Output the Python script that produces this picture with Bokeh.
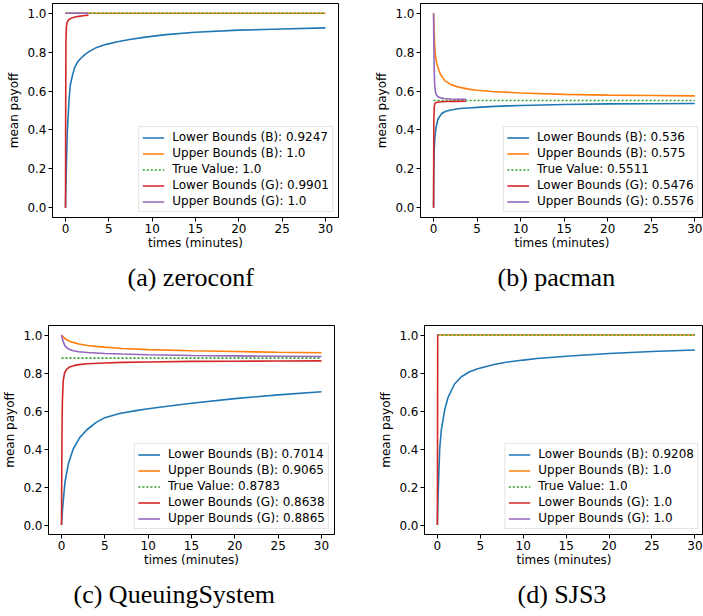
from bokeh.plotting import figure
from bokeh.layouts import column, row
from bokeh.models import FixedTicker, PrintfTickFormatter, Title, Range1d
from bokeh.embed import file_html
from bokeh.resources import INLINE

# ---------------- data ----------------
series_names = ["Lower Bounds (B)", "Upper Bounds (B)", "True Value", "Lower Bounds (G)", "Upper Bounds (G)"]
series_colors = ["#1f77b4", "#ff7f0e", "#2ca02c", "#d62728", "#9467bd"]
x_ticks = [0, 5, 10, 15, 20, 25, 30]
y_ticks = [0.0, 0.2, 0.4, 0.6, 0.8, 1.0]

# (a) zeroconf
a_final = ["0.9247", "1.0", "1.0", "0.9901", "1.0"]
a_lb_b_t = [0, 0.03, 0.1, 0.2, 0.4, 0.55, 0.8, 1.05, 1.4, 1.8, 2.3, 2.8, 3.5, 4.7, 6.0, 7.4, 9.0, 11.6, 15, 20, 25, 30]
a_lb_b_v = [0, 0.08, 0.21, 0.38, 0.55, 0.63, 0.68, 0.72, 0.75, 0.77, 0.79, 0.805, 0.822, 0.84, 0.853, 0.865, 0.876, 0.89, 0.902, 0.913, 0.919, 0.9247]
a_ub_b_t = [0, 30]
a_ub_b_v = [1.0, 1.0]
a_tv_t = [0, 30]
a_tv_v = [1.0, 1.0]
a_lb_g_t = [0, 0.02, 0.05, 0.1, 0.2, 0.4, 0.7, 1.0, 1.5, 2.0, 2.65]
a_lb_g_v = [0, 0.5, 0.85, 0.93, 0.955, 0.968, 0.975, 0.979, 0.984, 0.987, 0.9901]
a_ub_g_t = [0, 2.65]
a_ub_g_v = [1.0, 1.0]

# (b) pacman
b_final = ["0.536", "0.575", "0.5511", "0.5476", "0.5576"]
b_lb_b_t = [0, 0.03, 0.08, 0.15, 0.27, 0.5, 0.9, 1.4, 2.0, 3.0, 4.0, 5.0, 7.0, 10, 15, 20, 25, 30]
b_lb_b_v = [0, 0.2, 0.3, 0.36, 0.41, 0.455, 0.483, 0.496, 0.503, 0.51, 0.513, 0.516, 0.521, 0.526, 0.531, 0.534, 0.535, 0.536]
b_ub_b_t = [0, 0.05, 0.1, 0.2, 0.4, 0.8, 1.35, 2.0, 2.9, 4.0, 5.0, 6.7, 10, 15, 20, 25, 30]
b_ub_b_v = [1.0, 0.93, 0.86, 0.79, 0.735, 0.685, 0.651, 0.633, 0.62, 0.61, 0.604, 0.598, 0.59, 0.583, 0.579, 0.577, 0.575]
b_tv_t = [0, 30]
b_tv_v = [0.5511, 0.5511]
b_lb_g_t = [0, 0.03, 0.08, 0.15, 0.3, 0.6, 1.0, 1.5, 2.5, 3.73]
b_lb_g_v = [0, 0.45, 0.52, 0.535, 0.541, 0.544, 0.545, 0.546, 0.547, 0.5476]
b_ub_g_t = [0, 0.03, 0.07, 0.12, 0.2, 0.3, 0.5, 0.8, 1.2, 2.0, 3.0, 3.73]
b_ub_g_v = [1.0, 0.85, 0.72, 0.64, 0.6, 0.582, 0.571, 0.565, 0.562, 0.559, 0.558, 0.5576]

# (c) QueuingSystem
c_final = ["0.7014", "0.9065", "0.8783", "0.8638", "0.8865"]
c_lb_b_t = [0, 0.1, 0.2, 0.4, 0.8, 1.35, 2.1, 2.9, 4.0, 5.0, 6.7, 8.6, 10, 12, 15, 20, 25, 30]
c_lb_b_v = [0, 0.07, 0.126, 0.225, 0.324, 0.4, 0.46, 0.5, 0.54, 0.565, 0.587, 0.602, 0.612, 0.624, 0.641, 0.665, 0.685, 0.7014]
c_ub_b_t = [0, 0.1, 0.3, 0.6, 1.0, 1.4, 2.0, 3.0, 4.0, 5.0, 7.0, 10, 15, 20, 25, 30]
c_ub_b_v = [1.0, 0.995, 0.985, 0.975, 0.966, 0.96, 0.953, 0.945, 0.94, 0.936, 0.929, 0.923, 0.917, 0.913, 0.909, 0.9065]
c_tv_t = [0, 30]
c_tv_v = [0.8783, 0.8783]
c_lb_g_t = [0, 0.05, 0.1, 0.2, 0.35, 0.6, 1.0, 1.5, 2.0, 3.0, 5.0, 7.0, 10, 15, 20, 25, 30]
c_lb_g_v = [0, 0.45, 0.65, 0.76, 0.8, 0.82, 0.833, 0.84, 0.844, 0.849, 0.853, 0.856, 0.858, 0.861, 0.862, 0.863, 0.8638]
c_ub_g_t = [0, 0.05, 0.1, 0.2, 0.4, 0.8, 1.35, 2.0, 3.0, 5.0, 7.0, 10, 15, 20, 25, 30]
c_ub_g_v = [1.0, 0.99, 0.98, 0.965, 0.943, 0.926, 0.917, 0.912, 0.908, 0.903, 0.9, 0.896, 0.892, 0.89, 0.888, 0.8865]

# (d) SJS3
d_final = ["0.9208", "1.0", "1.0", "1.0", "1.0"]
d_lb_b_t = [0, 0.05, 0.16, 0.27, 0.46, 0.85, 1.23, 2.0, 2.8, 3.7, 4.7, 6.6, 8.0, 10, 11.6, 15, 20, 25, 30]
d_lb_b_v = [0, 0.1, 0.263, 0.4, 0.5, 0.605, 0.67, 0.742, 0.78, 0.805, 0.822, 0.845, 0.857, 0.868, 0.876, 0.888, 0.903, 0.913, 0.9208]
d_ub_b_t = [0, 30]
d_ub_b_v = [1.0, 1.0]
d_tv_t = [0, 30]
d_tv_v = [1.0, 1.0]
d_lb_g_t = [0, 0.04, 0.1]
d_lb_g_v = [0, 1.0, 1.0]
d_ub_g_t = [0, 0.1]
d_ub_g_v = [1.0, 1.0]

captions = ["(a) zeroconf", "(b) pacman", "(c) QueuingSystem", "(d) SJS3"]

SANS = "DejaVu Sans"
SERIF = "Liberation Serif"
FS = "12px"


def make_panel(curves, finals, caption, cap_offset, x_end, width, height, mbl, mbr, mbt, mbb):
    p = figure(width=width, height=height, output_backend="svg", toolbar_location=None,
               x_range=Range1d(-1.5, x_end), y_range=Range1d(-0.05, 1.05),
               min_border_left=mbl, min_border_right=mbr,
               min_border_top=mbt, min_border_bottom=mbb,
               title_location=None,
               x_axis_label="times (minutes)", y_axis_label="mean payoff")
    p.background_fill_color = "white"
    p.border_fill_color = "white"
    p.outline_line_color = "black"
    p.outline_line_width = 1
    p.xgrid.visible = False
    p.ygrid.visible = False

    for i, (t, v) in enumerate(curves):
        label = series_names[i] + ": " + finals[i]
        if i == 2:
            p.line(t, v, line_color=series_colors[i], line_width=1.6,
                   line_dash="2 2", legend_label=label)
        else:
            p.line(t, v, line_color=series_colors[i], line_width=1.6,
                   legend_label=label)

    p.xaxis.ticker = FixedTicker(ticks=x_ticks)
    p.yaxis.ticker = FixedTicker(ticks=y_ticks)
    p.yaxis.formatter = PrintfTickFormatter(format="%.1f")
    for ax in (p.xaxis[0], p.yaxis[0]):
        ax.axis_line_color = "black"
        ax.axis_line_width = 1
        ax.major_tick_line_color = "black"
        ax.major_tick_out = 4
        ax.major_tick_in = 0
        ax.minor_tick_line_color = None
        ax.major_label_text_font = SANS
        ax.major_label_text_font_size = FS
        ax.major_label_text_color = "black"
        ax.axis_label_text_font = SANS
        ax.axis_label_text_font_size = FS
        ax.axis_label_text_font_style = "normal"
        ax.axis_label_text_color = "black"
    p.xaxis.major_label_standoff = 2
    p.xaxis.axis_label_standoff = 0
    p.yaxis.major_label_standoff = 2
    p.yaxis.axis_label_standoff = 3

    lg = p.legend[0]
    lg.location = "bottom_right"
    lg.margin = 5
    lg.padding = 3
    lg.spacing = 2
    lg.glyph_width = 22
    lg.glyph_height = 13
    lg.label_height = 13
    lg.label_standoff = 8
    lg.label_text_font = SANS
    lg.label_text_font_size = FS
    lg.label_text_color = "black"
    lg.border_line_color = "#cccccc"
    lg.border_line_width = 1
    lg.background_fill_color = "white"
    lg.background_fill_alpha = 0.8

    cap = Title(text=caption, align="left", offset=cap_offset, text_font=SERIF,
                text_font_size="26px", text_font_style="normal",
                text_color="black", standoff=16)
    p.add_layout(cap, "below")
    return p


pa = make_panel([(a_lb_b_t, a_lb_b_v), (a_ub_b_t, a_ub_b_v), (a_tv_t, a_tv_v),
                 (a_lb_g_t, a_lb_g_v), (a_ub_g_t, a_ub_g_v)],
                a_final, captions[0], 75, 31.5, 350, 310, 52, 12, 3, 93)
pb = make_panel([(b_lb_b_t, b_lb_b_v), (b_ub_b_t, b_ub_b_v), (b_tv_t, b_tv_v),
                 (b_lb_g_t, b_lb_g_v), (b_ub_g_t, b_ub_g_v)],
                b_final, captions[1], 77, 31.0, 353, 310, 70, 0, 3, 93)
pc = make_panel([(c_lb_b_t, c_lb_b_v), (c_ub_b_t, c_ub_b_v), (c_tv_t, c_tv_v),
                 (c_lb_g_t, c_lb_g_v), (c_ub_g_t, c_ub_g_v)],
                c_final, captions[2], 25, 31.5, 350, 306, 47, 16, 15, 77)
pd = make_panel([(d_lb_b_t, d_lb_b_v), (d_ub_b_t, d_ub_b_v), (d_tv_t, d_tv_v),
                 (d_lb_g_t, d_lb_g_v), (d_ub_g_t, d_ub_g_v)],
                d_final, captions[3], 93, 31.0, 353, 306, 74, 0, 15, 77)

layout = column(row(pa, pb), row(pc, pd))

open("out.html", "w").write(file_html(layout, INLINE))
